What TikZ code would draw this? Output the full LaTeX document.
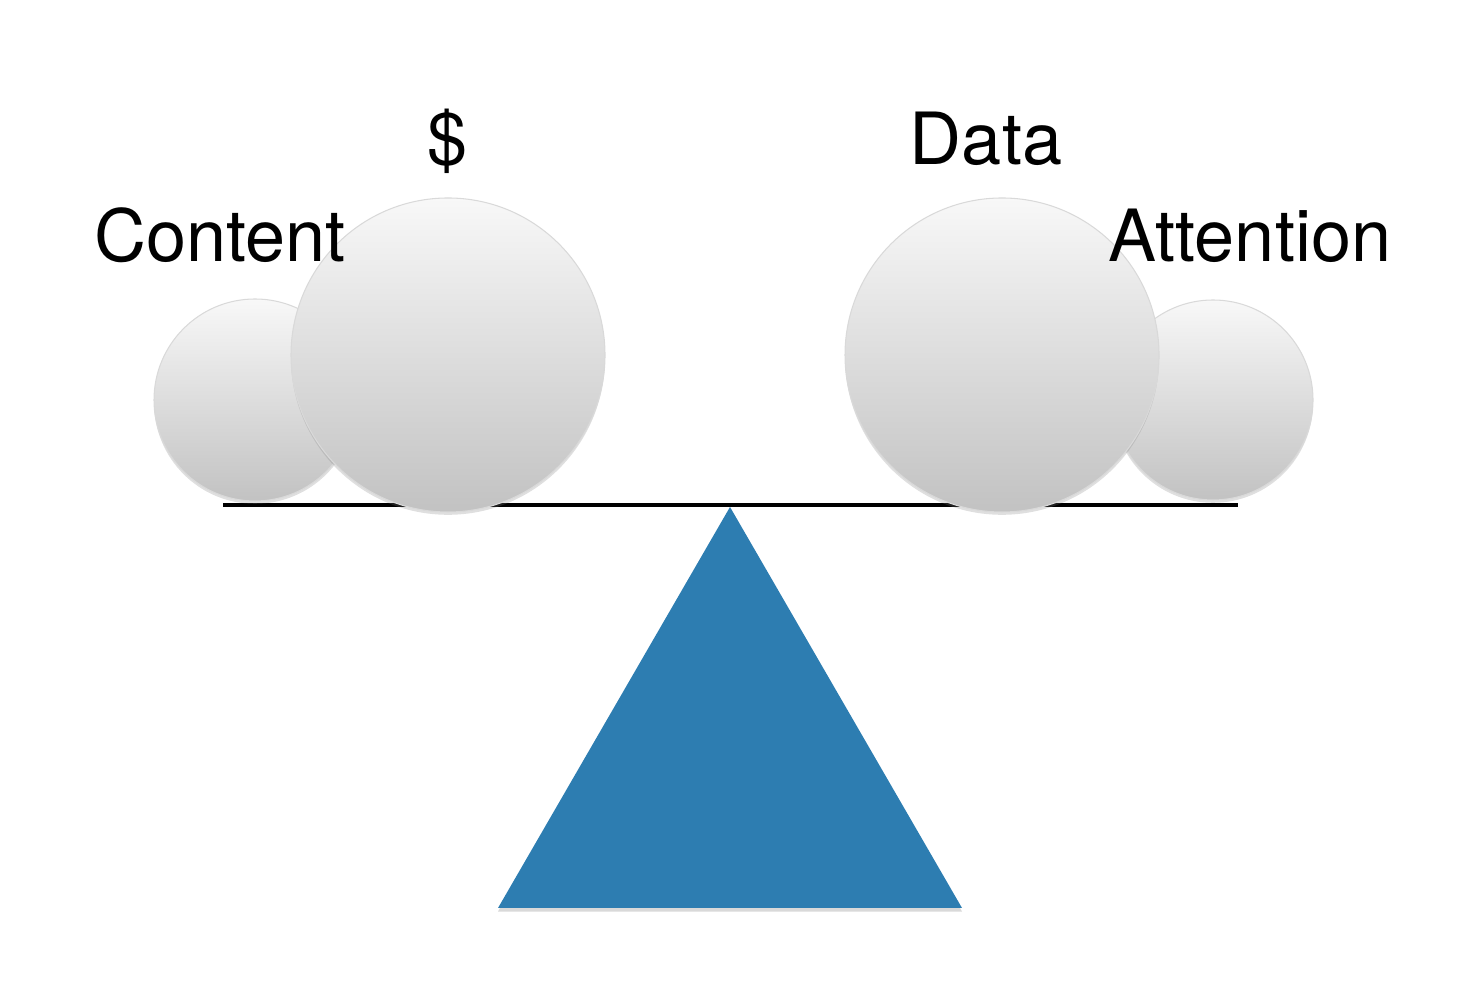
\documentclass[tikz,border=0pt]{standalone}
\usepackage{fontspec}
\setmainfont{TeX Gyre Heros}
\usetikzlibrary{shadows, positioning}
\definecolor{fulcrumblue}{RGB}{45,125,177}
\definecolor{ballgray}{RGB}{194,194,194}
\definecolor{balltop}{RGB}{248,248,248}
\tikzset{
  weight/.style={circle, inner sep=0pt, top color=balltop, bottom color=ballgray,
    draw=gray!30, line width=0.3pt,
    drop shadow={opacity=0.25, shadow xshift=0pt, shadow yshift=-0.8pt}},
  tag/.style={font=\fontsize{20.5}{24}\selectfont, inner sep=0pt, anchor=base}
}

\begin{document}
\begin{tikzpicture}
\useasboundingbox (0,0) rectangle (14.64,10.08);

% Beam
\coordinate (beamL) at (2.23,5.03);
\coordinate (beamR) at (12.38,5.03);
\draw[line width=1.1pt] (beamL) -- (beamR);

% Fulcrum
\coordinate (apex) at (7.30,5.01);
\coordinate (baseL) at (4.98,1.00);
\coordinate (baseR) at (9.62,1.00);
\fill[fulcrumblue, drop shadow={opacity=0.3, shadow xshift=0pt, shadow yshift=-1pt}]
  (apex) -- (baseL) -- (baseR) -- cycle;

% Weights, left pan
\node[weight, minimum size=2.02cm] (content) at (2.55,6.08) {};
\node[weight, minimum size=3.14cm] (money) at (4.48,6.53) {};

% Weights, right pan
\node[weight, minimum size=2.00cm] (attention) at (12.13,6.08) {};
\node[weight, minimum size=3.14cm] (data) at (10.02,6.53) {};

% Labels
\node[tag] (contentlbl) at (2.20,7.46) {Content};
\node[tag] (moneylbl) at (4.48,8.43) {\$};
\node[tag] (datalbl) at (9.86,8.43) {Data};
\node[tag] (attentionlbl) at (12.50,7.46) {Attention};
\end{tikzpicture}
\end{document}
